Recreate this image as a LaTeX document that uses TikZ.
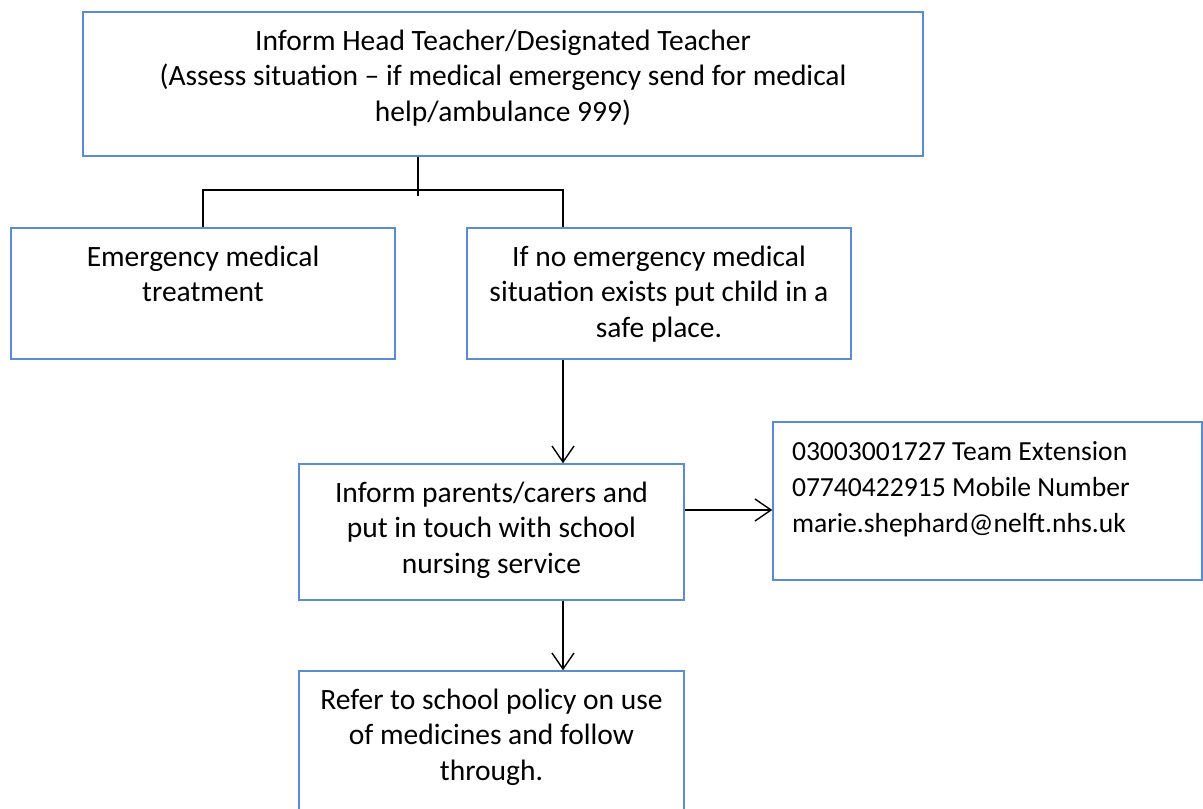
\documentclass[tikz,border=0pt]{standalone}
\usepackage{fontspec}
\setmainfont{Carlito}
\usetikzlibrary{arrows.meta}
\definecolor{boxblue}{RGB}{90,140,212}
% text block that starts at the top of its box
\newcommand{\boxtext}[4]{\parbox[c][#2][t]{#1}{#3\rule{0pt}{38pt}#4}}
\tikzset{
    flowbox/.style={draw=boxblue, line width=1.5pt, rectangle, inner sep=0pt, align=center},
    link/.style={draw=black, line width=1.4pt},
    flowarrow/.style={link, -{Straight Barb[length=16pt,width=22pt,line width=1.4pt]}}
}
\begin{document}
\begin{tikzpicture}[x=1pt,y=-1pt]
    \useasboundingbox (0,0) rectangle (1203,809);
    \fontsize{29.5}{35.5}\selectfont

    \node[flowbox] (inform) at (503,84)
        {\boxtext{840pt}{144pt}{\centering}{Inform Head Teacher/Designated Teacher\\
        (Assess situation -- if medical emergency send for medical\\
        help/ambulance 999)}};

    \node[flowbox] (treat) at (203,293.5)
        {\boxtext{384pt}{131pt}{\centering}{Emergency medical\\ treatment}};
    \node[flowbox] (safe) at (659,293.5)
        {\boxtext{384pt}{131pt}{\centering}{If no emergency medical\\
        situation exists put child in a\\ safe place.}};

    \node[flowbox] (parents) at (491.5,532)
        {\boxtext{385pt}{136pt}{\centering}{Inform parents/carers and\\
        put in touch with school\\ nursing service}};
    \node[flowbox, inner xsep=19pt, font=\fontsize{27.6}{36}\selectfont] (contact) at (987.5,501)
        {\boxtext{391pt}{158pt}{\raggedright}{03003001727 Team Extension\\
        07740422915 Mobile Number\\ marie.shephard@nelft.nhs.uk}};

    \node[flowbox] (policy) at (491.5,741.5)
        {\boxtext{385pt}{141pt}{\centering}{Refer to school policy on use\\
        of medicines and follow\\ through.}};

    % connectors
    \coordinate (stem) at (418,196);
    \coordinate (branch) at (418,190);
    \coordinate (axis) at (563,0);
    \coordinate (side) at (0,510);

    \draw[link] (inform.south -| stem) -- (stem);
    \draw[link] (treat.north) |- (branch) -| (safe.north -| axis);
    \draw[flowarrow] (safe.south -| axis) -- (parents.north -| axis);
    \draw[flowarrow] (parents.east |- side) -- (contact.west |- side);
    \draw[flowarrow] (parents.south -| axis) -- (policy.north -| axis);
\end{tikzpicture}
\end{document}
